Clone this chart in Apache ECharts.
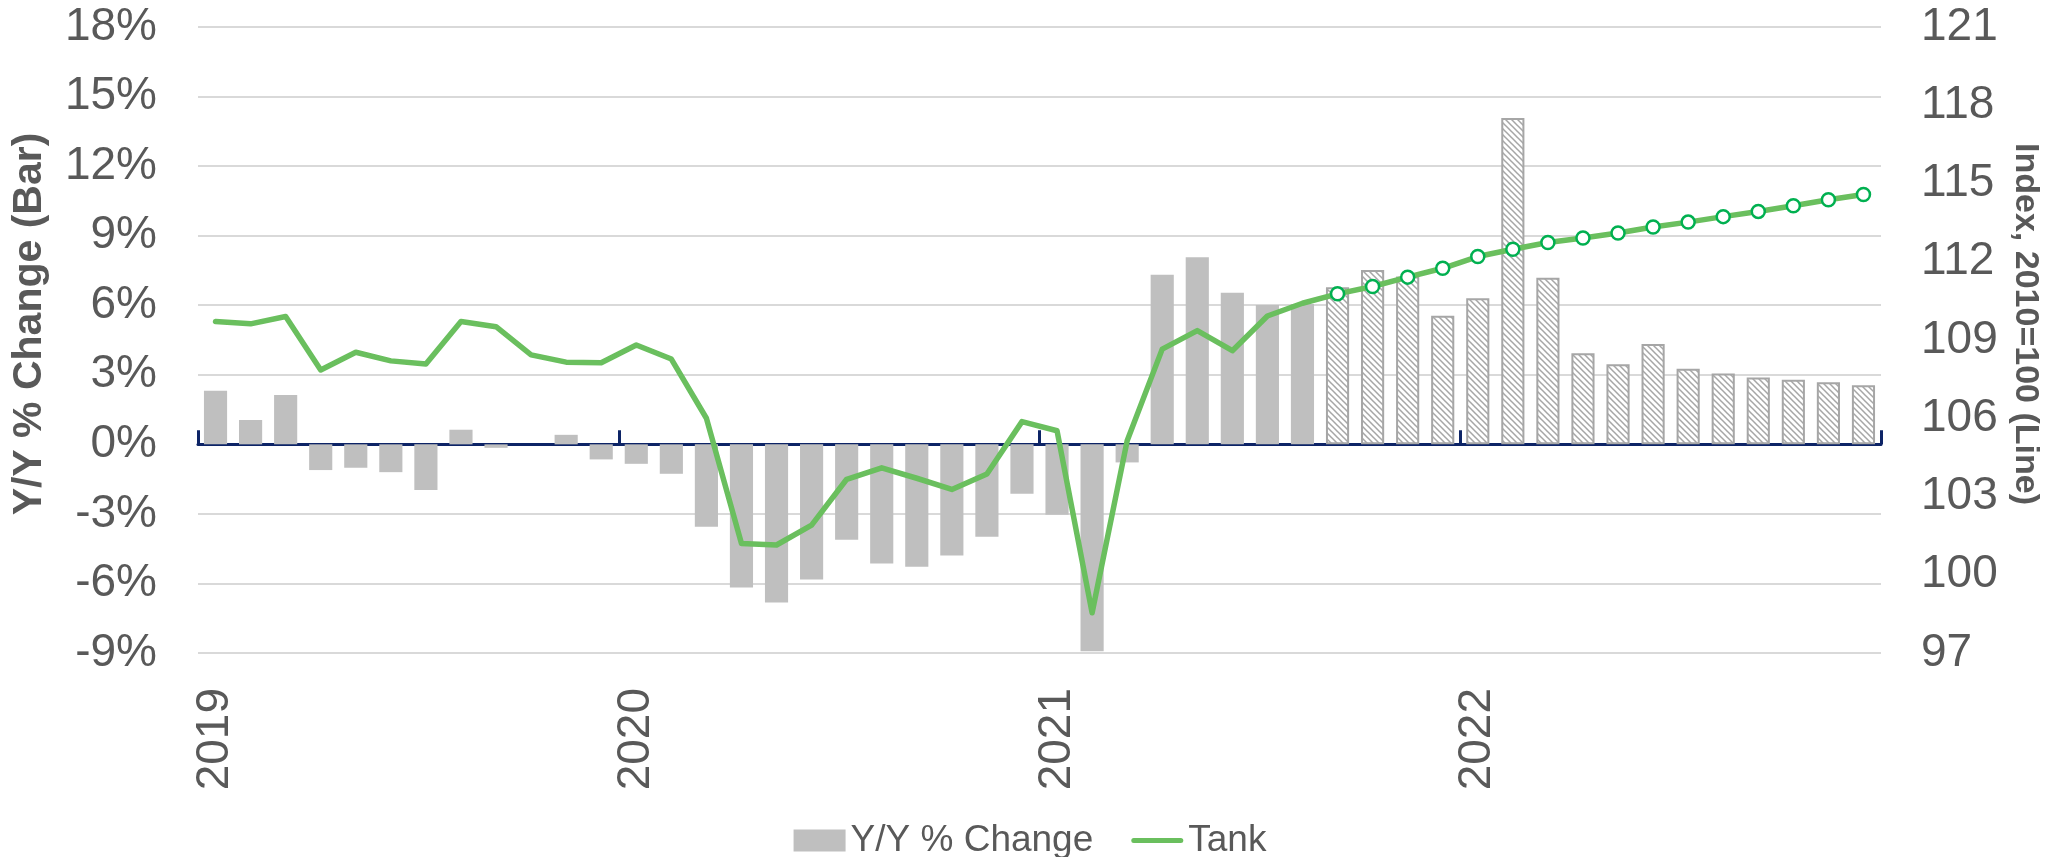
<!DOCTYPE html>
<html lang="en">
<head>
    <meta charset="UTF-8"/>
    <title>Tank Index</title>
    <script src="https://cdn.jsdelivr.net/npm/echarts@6/dist/echarts.min.js"></script>
    <style>
        html, body { margin: 0; padding: 0; background: #fff; }
    </style>
</head>
<body>
<div id="main" style="width: 2060px;height:857px;"></div>

<script type="text/javascript">
    // months, Jan 2019 - Dec 2022
    var months = [
        '2019-01', '2019-02', '2019-03', '2019-04', '2019-05', '2019-06', '2019-07', '2019-08', '2019-09', '2019-10', '2019-11', '2019-12',
        '2020-01', '2020-02', '2020-03', '2020-04', '2020-05', '2020-06', '2020-07', '2020-08', '2020-09', '2020-10', '2020-11', '2020-12',
        '2021-01', '2021-02', '2021-03', '2021-04', '2021-05', '2021-06', '2021-07', '2021-08', '2021-09', '2021-10', '2021-11', '2021-12',
        '2022-01', '2022-02', '2022-03', '2022-04', '2022-05', '2022-06', '2022-07', '2022-08', '2022-09', '2022-10', '2022-11', '2022-12'
    ];

    // Y/Y % change (bars)
    var yoy = [
        2.31, 1.05, 2.13, -1.11, -1.01, -1.20, -1.97, 0.63, -0.15, 0.0, 0.41, -0.65,
        -0.84, -1.27, -3.56, -6.17, -6.82, -5.83, -4.12, -5.14, -5.28, -4.79, -3.99, -2.13,
        -3.04, -8.92, -0.78, 7.31, 8.07, 6.54, 6.01, 6.05, 6.78, 7.52, 7.24, 5.55,
        6.30, 14.07, 7.19, 3.93, 3.45, 4.33, 3.26, 3.05, 2.88, 2.79, 2.68, 2.55
    ];

    // Tank index, 2010=100 (line)
    var tank = [
        109.71, 109.62, 109.90, 107.85, 108.53, 108.20, 108.08, 109.71, 109.51, 108.43, 108.15, 108.13,
        108.81, 108.27, 106.00, 101.20, 101.14, 101.90, 103.66, 104.10, 103.70, 103.27, 103.86, 105.87,
        105.52, 98.54, 105.14, 108.65, 109.36, 108.59, 109.92, 110.41, 110.77, 111.05, 111.41, 111.75,
        112.20, 112.48, 112.74, 112.91, 113.10, 113.33, 113.52, 113.73, 113.93, 114.15, 114.38, 114.58
    ];

    // first forecast month (hatched bars, circle markers)
    var forecastFrom = months.indexOf('2021-09');

    var textColor = '#595959';
    var font = '"Liberation Sans", Arial, sans-serif';
    var lineGreen = '#6abf5e';

    // diagonal hatch for forecast bars
    function hatch() {
        var c = document.createElement('canvas');
        c.width = 6;
        c.height = 6;
        var g = c.getContext('2d');
        g.fillStyle = '#ffffff';
        g.fillRect(0, 0, 6, 6);
        g.strokeStyle = '#a6a6a6';
        g.lineWidth = 1.5;
        g.beginPath();
        for (var k = -6; k <= 6; k += 6) {
            g.moveTo(k - 1, -1);
            g.lineTo(k + 7, 7);
        }
        g.stroke();
        return c;
    }
    var hatchFill = { image: hatch(), repeat: 'repeat' };

    // legend key for the line: a thick rounded stroke inside a 52x22 box
    var lineKey = 'path://M0,0M2.5,8.5L49.5,8.5A2.5,2.5 0 0 1 49.5,13.5L2.5,13.5A2.5,2.5 0 0 1 2.5,8.5ZM52,22';

    var myChart = echarts.init(document.getElementById('main'));

    var option = {
        animation: false,
        textStyle: { fontFamily: font, color: textColor },
        grid: { left: 198, right: 179, top: 27, bottom: 204 },
        legend: {
            left: 'center',
            top: 817,
            itemWidth: 52,
            itemHeight: 22,
            itemGap: 38,
            textStyle: { fontSize: 37, color: textColor, fontFamily: font },
            data: [
                { name: 'Y/Y % Change', icon: 'rect' },
                { name: 'Tank', icon: lineKey, itemStyle: { color: lineGreen, borderWidth: 0 } }
            ]
        },
        xAxis: [
            {
                type: 'category',
                data: months,
                axisLine: { onZero: true, onZeroAxisIndex: 0, lineStyle: { color: '#0d2466', width: 3 } },
                axisTick: { show: true, interval: 11, inside: true, length: 14, lineStyle: { color: '#0d2466', width: 3 } },
                axisLabel: { show: false },
                splitLine: { show: false }
            },
            {
                type: 'category',
                data: months,
                axisLine: { show: false, onZero: true, onZeroAxisIndex: 0 },
                axisTick: { show: true, interval: 11, length: 14, lineStyle: { color: '#0d2466', width: 3 } },
                axisLabel: { show: false },
                splitLine: { show: false }
            },
            {
                type: 'category',
                data: months,
                position: 'bottom',
                axisLine: { show: false, onZero: false },
                axisTick: { show: false },
                axisLabel: {
                    interval: 11,
                    rotate: 90,
                    margin: 35,
                    fontSize: 46,
                    color: textColor,
                    formatter: function (v) { return v.slice(0, 4); }
                },
                splitLine: { show: false }
            }
        ],
        yAxis: [
            {
                type: 'value',
                min: -9,
                max: 18,
                interval: 3,
                name: 'Y/Y % Change (Bar)',
                nameLocation: 'middle',
                nameGap: 148,
                nameTextStyle: { fontSize: 41, fontWeight: 'bold', color: textColor, padding: [0, 0, 0, 32] },
                axisLine: { show: false },
                axisTick: { show: false },
                axisLabel: { formatter: '{value}%', fontSize: 46, color: textColor, margin: 41 },
                splitLine: { lineStyle: { color: '#d9d9d9', width: 2 } }
            },
            {
                type: 'value',
                min: 97,
                max: 121,
                interval: 3,
                position: 'right',
                name: 'Index, 2010=100 (Line)',
                nameLocation: 'middle',
                nameRotate: -90,
                nameGap: 127,
                nameTextStyle: { fontSize: 34, fontWeight: 'bold', color: textColor, padding: [0, 32, 0, 0] },
                axisLine: { show: false },
                axisTick: { show: false },
                axisLabel: { fontSize: 46, color: textColor, margin: 40 },
                splitLine: { show: false }
            }
        ],
        series: [
            {
                name: 'Y/Y % Change',
                type: 'bar',
                xAxisIndex: 0,
                yAxisIndex: 0,
                barWidth: '66%',
                itemStyle: { color: '#bfbfbf' },
                data: yoy.map(function (v, i) {
                    if (i < forecastFrom) return v;
                    return {
                        value: v,
                        itemStyle: { color: hatchFill, borderColor: '#a6a6a6', borderWidth: 2 }
                    };
                })
            },
            {
                name: 'Tank',
                type: 'line',
                xAxisIndex: 0,
                yAxisIndex: 1,
                symbol: 'none',
                symbolSize: 13,
                lineStyle: { color: lineGreen, width: 5.5, cap: 'round', join: 'round' },
                itemStyle: { color: '#ffffff', borderColor: '#00b050', borderWidth: 2.5 },
                data: tank.map(function (v, i) {
                    return i < forecastFrom ? v : { value: v, symbol: 'circle' };
                })
            }
        ]
    };

    myChart.setOption(option);
</script>

</body>
</html>
